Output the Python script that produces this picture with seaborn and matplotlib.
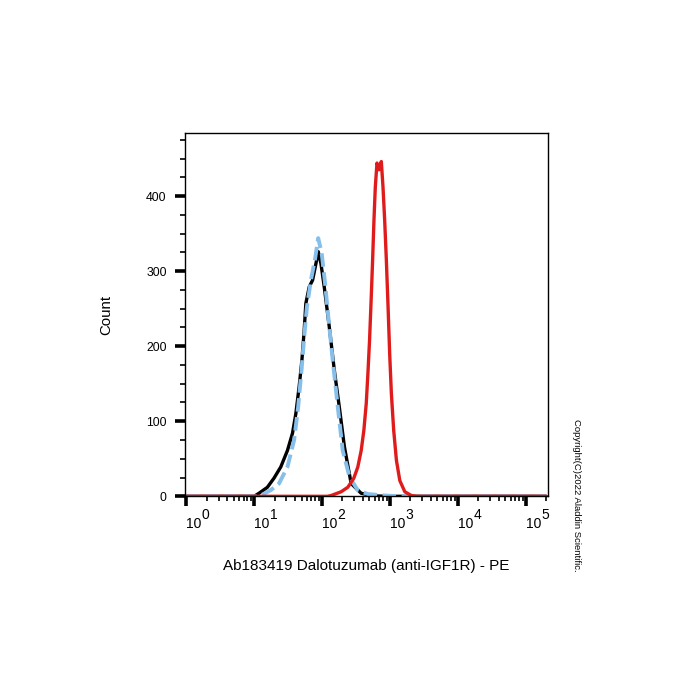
import numpy as np
import pandas as pd
import seaborn as sns
import matplotlib
matplotlib.use("Agg")
import matplotlib.pyplot as plt
from matplotlib import transforms
from matplotlib.ticker import LogLocator, MultipleLocator, FixedLocator, NullFormatter

# isotype / unstained control (black, solid)
black_pe = [1, 10, 11.8, 15.7, 19.6, 24.7, 31.0, 36.8, 41.2, 46.1, 50.6, 54.7, 57.9, 64.9,
            72.8, 81.5, 88.1, 96.6, 108, 128, 152, 180, 214, 269, 378, 596, 1000, 200000]
black_count = [0, 0, 4, 12, 24, 39, 61, 84, 110, 146, 181, 221, 257, 279,
               288, 310, 326, 310, 279, 226, 168, 119, 66, 17, 4, 0.5, 0, 0]

# blank control (light blue, dashed)
blue_pe = [1, 11, 12.5, 17.5, 23.3, 31, 38.9, 44.6, 50, 54.7, 60, 68.7, 78.7, 88,
           99, 111, 124, 144, 171, 202, 254, 337, 475, 838, 1480, 200000]
blue_count = [0, 0, 1, 8, 17, 39, 75, 119, 168, 212, 252, 288, 315, 344,
              324, 284, 239, 181, 119, 61, 26, 8, 3, 1, 0, 0]

# Dalotuzumab stained (red, solid)
red_pe = [1, 120, 136, 191, 240, 294, 337, 378, 414, 449, 475, 502, 532, 557, 583, 610,
          646, 692, 748, 792, 838, 887, 940, 993, 1052, 1138, 1248, 1400, 1660, 2084,
          2500, 200000]
red_count = [0, 0, 1, 6, 12, 24, 39, 61, 88, 124, 164, 208, 266, 315, 368, 412,
             444, 435, 446, 412, 368, 315, 253, 190, 137, 88, 48, 21, 6, 1,
             0, 0]

decades = [0, 1, 2, 3, 4, 5]

sns.set_style("ticks")
plt.rcParams["font.family"] = ["Liberation Sans", "DejaVu Sans"]
plt.rcParams["text.color"] = "black"
plt.rcParams["axes.labelcolor"] = "black"

fig = plt.figure(figsize=(7, 7), dpi=100)
ax = fig.add_axes([0.264, 0.291, 0.519, 0.519])

df_black = pd.DataFrame({"pe": black_pe, "count": black_count})
df_blue = pd.DataFrame({"pe": blue_pe, "count": blue_count})
df_red = pd.DataFrame({"pe": red_pe, "count": red_count})

sns.lineplot(data=df_black, x="pe", y="count", ax=ax, color="black", lw=2.4,
             estimator=None, sort=False)
sns.lineplot(data=df_blue, x="pe", y="count", ax=ax, color="#86bfea", lw=2.8,
             estimator=None, sort=False, linestyle=(0, (3.5, 1.4)))
sns.lineplot(data=df_red, x="pe", y="count", ax=ax, color="#e01b1b", lw=2.4,
             estimator=None, sort=False)

ax.set_xscale("log")
ax.set_xlim(10 ** -0.02, 10 ** 5.33)
ax.set_ylim(0, 484)

ax.xaxis.set_major_locator(FixedLocator([10 ** d for d in decades]))
ax.xaxis.set_minor_locator(LogLocator(base=10, subs=np.arange(2, 10), numticks=20))
ax.xaxis.set_major_formatter(NullFormatter())
ax.xaxis.set_minor_formatter(NullFormatter())
ax.yaxis.set_major_locator(MultipleLocator(100))
ax.yaxis.set_minor_locator(MultipleLocator(25))

ax.tick_params(axis="both", which="major", direction="out", length=7.5, width=2.6,
               color="black", labelsize=8.8, labelcolor="black")
ax.tick_params(axis="both", which="minor", direction="out", length=3.8, width=1.2,
               color="black")
ax.tick_params(axis="y", which="major", pad=5.5)

# decade labels: "10" with a large raised exponent
trans = transforms.blended_transform_factory(ax.transData, ax.transAxes)
sup = transforms.offset_copy(trans, fig=fig, x=11.3, y=6.5, units="points")
for d in decades:
    ax.text(10 ** d, -0.088, "10", transform=trans, ha="left", va="baseline",
            fontsize=10)
    ax.text(10 ** d, -0.088, str(d), transform=sup, ha="left", va="baseline",
            fontsize=10)

for s in ax.spines.values():
    s.set_visible(True)
    s.set_linewidth(1.0)
    s.set_color("black")

ax.set_xlabel("Ab183419 Dalotuzumab (anti-IGF1R) - PE", fontsize=11)
ax.xaxis.set_label_coords(0.5, -0.172)
ax.set_ylabel("Count", fontsize=10.8)
ax.yaxis.set_label_coords(-0.197, 0.5)

fig.text(0.824, 0.293, "Copyright(C)2022 Aladdin Scientific.", rotation=270,
         fontsize=6.8, ha="center", va="center", color="black")

fig.savefig("out.png", dpi=100, facecolor="white")
